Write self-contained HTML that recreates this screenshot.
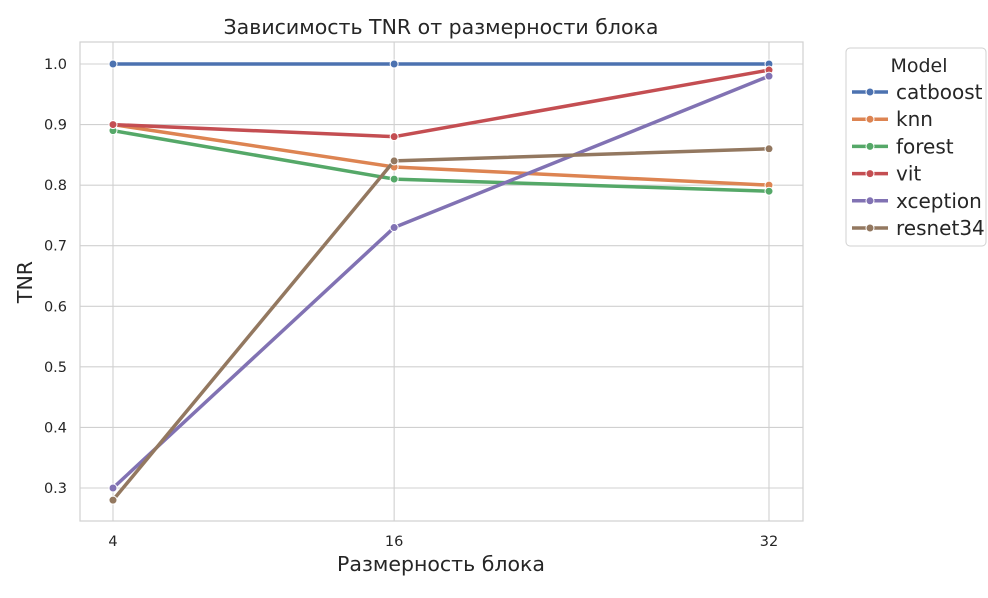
<!DOCTYPE html>
<html><head><meta charset="utf-8">
<style>
html,body{margin:0;padding:0;background:#fff;}
svg text{font-family:"DejaVu Sans","Liberation Sans",sans-serif;}
</style></head>
<body>
<svg id="chart" width="988" height="593" viewBox="0 0 988 593" xmlns="http://www.w3.org/2000/svg">
<rect x="0" y="0" width="988" height="593" fill="#fff"/>
<rect x="80" y="42" width="723" height="479" fill="#fff" stroke="#d0d0d0" stroke-width="1.2"/>
<g id="grid"></g>
<g id="ticks"></g>
<g id="series"></g>
<text x="441" y="34" text-anchor="middle" font-size="20.5" fill="#262626">Зависимость TNR от размерности блока</text>
<text x="441" y="571" text-anchor="middle" font-size="20.5" fill="#262626">Размерность блока</text>
<text x="32" y="282" text-anchor="middle" font-size="20.5" fill="#262626" transform="rotate(-90 32 282)">TNR</text>
<g id="legend">
<rect x="846" y="48" width="140" height="198" rx="4" fill="#fff" stroke="#d0d0d0"/>
<text x="919" y="72" text-anchor="middle" font-size="19" fill="#262626">Model</text>
</g>
</svg>
<script>
const categories = [4, 16, 32];
const seriesNames = ["catboost", "knn", "forest", "vit", "xception", "resnet34"];
const catboost = [1.00, 1.00, 1.00];
const knn = [0.90, 0.83, 0.80];
const forest = [0.89, 0.81, 0.79];
const vit = [0.90, 0.88, 0.99];
const xception = [0.30, 0.73, 0.98];
const resnet34 = [0.28, 0.84, 0.86];
const yTicks = [0.3, 0.4, 0.5, 0.6, 0.7, 0.8, 0.9, 1.0];
const yTickLabels = ["0.3", "0.4", "0.5", "0.6", "0.7", "0.8", "0.9", "1.0"];

const allSeries = [catboost, knn, forest, vit, xception, resnet34];
const colors = ["#4c72b0", "#dd8452", "#55a868", "#c44e52", "#8172b3", "#937860"];
const NS = "http://www.w3.org/2000/svg";
function xs(v){ return 113 + (v - 4) * (769 - 113) / 28; }
function ys(v){ return 488 - (v - 0.3) * (488 - 64) / 0.7; }
function mk(tag, attrs, parent){
  const e = document.createElementNS(NS, tag);
  for (const k in attrs) e.setAttribute(k, attrs[k]);
  parent.appendChild(e); return e;
}
const grid = document.getElementById("grid");
const ticks = document.getElementById("ticks");
yTicks.forEach((t, i) => {
  const l = mk("line", {x1: 80, x2: 803, y1: ys(t), y2: ys(t), stroke: "#d0d0d0", "stroke-width": 1.1}, grid);
  
  
  const tx = mk("text", {x: 67, y: ys(t) + 5, "text-anchor": "end", "font-size": 14.5, fill: "#262626"}, ticks);
  tx.textContent = yTickLabels[i];
  
  
});
categories.forEach(c => {
  const l = mk("line", {x1: xs(c), x2: xs(c), y1: 42, y2: 521, stroke: "#d0d0d0", "stroke-width": 1.1}, grid);
  
  
  const tx = mk("text", {x: xs(c), y: 546, "text-anchor": "middle", "font-size": 14.5, fill: "#262626"}, ticks);
  tx.textContent = String(c);
  
  
});
const sg = document.getElementById("series");
allSeries.forEach((vals, si) => {
  const pts = vals.map((v, i) => xs(categories[i]) + "," + ys(v)).join(" ");
  const pl = mk("polyline", {points: pts, fill: "none", stroke: colors[si], "stroke-width": 3.5, "stroke-linejoin": "round"}, sg);
  
  
  vals.forEach((v, i) => {
    const c = mk("circle", {cx: xs(categories[i]), cy: ys(v), r: 4, fill: colors[si], stroke: "#fff", "stroke-width": 1}, sg);
    
    
  });
});
const lg = document.getElementById("legend");
seriesNames.forEach((n, i) => {
  const y = 92 + i * 27.2;
  const l = mk("line", {x1: 852, x2: 888, y1: y, y2: y, stroke: colors[i], "stroke-width": 3.5}, lg);
  
  
  const c = mk("circle", {cx: 870, cy: y, r: 4, fill: colors[i], stroke: "#fff", "stroke-width": 1}, lg);
  
  
  const t = mk("text", {x: 896, y: y + 7, "font-size": 20, fill: "#262626"}, lg);
  t.textContent = n;
  
  
});
</script>
</body></html>
